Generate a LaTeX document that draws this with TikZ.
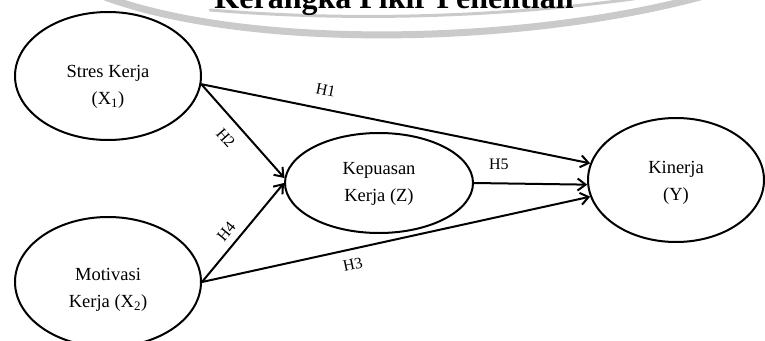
\documentclass[tikz,border=0pt]{standalone}
\usepackage{fontspec}
\setmainfont{Liberation Serif}
\usetikzlibrary{arrows.meta,shapes.geometric}
\definecolor{KPInk}{HTML}{000000}
\definecolor{KPWater}{HTML}{CACACA}
\tikzset{
  link/.style={-{Straight Barb[length=8pt,width=12pt]},KPInk,line width=2pt},
  construct/.style={ellipse,draw=KPInk,line width=2pt,inner sep=0pt},
  varlabel/.style={text=KPInk,font=\fontsize{18.5}{27}\selectfont,align=center},
  hyp/.style={text=KPInk,font=\fontsize{16}{18}\selectfont,inner sep=1pt},
  headline/.style={text=KPInk,font=\fontsize{32}{36}\selectfont\bfseries},
  swoosh/.style={KPWater,line cap=round},
}

\begin{document}
\begin{tikzpicture}[x=1pt,y=-1pt]
  \useasboundingbox (0,0) rectangle (765,340);
  \begin{scope}
    \clip (0,0) rectangle (765,340);
    \draw[swoosh,line width=7pt] (105,-3) .. controls (250,50) and (520,45) .. (700,-3);
    \draw[swoosh,line width=3pt] (210,10) .. controls (330,20) and (480,20) .. (640,-2);
    \node[headline,anchor=base] (title) at (394,9) {Kerangka Pikir Penelitian};

    \node[construct,minimum width=186pt,minimum height=128pt] (stres) at (108,76) {};
    \node[varlabel] (stresT) at (108,87) {Stres Kerja\\(X\textsubscript{1})};
    \node[construct,minimum width=186pt,minimum height=130pt] (motiv) at (108,282) {};
    \node[varlabel] (motivT) at (108,290) {Motivasi\\Kerja (X\textsubscript{2})};
    \node[construct,minimum width=188pt,minimum height=100pt] (kepuas) at (379,183) {};
    \node[varlabel] (kepuasT) at (379,184) {Kepuasan\\Kerja (Z)};
    \node[construct,minimum width=176pt,minimum height=124pt] (kinerja) at (676,180) {};
    \node[varlabel] (kinerjaT) at (676,183) {Kinerja\\(Y)};

    \draw[link] (stres.-5) -- (kinerja.169) node[hyp,pos=.31,sloped,above=12pt] {H1};
    \draw[link] (stres.-5) -- (kepuas.177) node[hyp,pos=.45,sloped,below=10pt] {H2};
    \draw[link] (motiv.east) -- (kepuas.180) node[hyp,pos=.42,sloped,above=6pt] {H4};
    \draw[link] (motiv.east) -- (kinerja.191) node[hyp,pos=.38,sloped,below=8pt] {H3};
    \draw[link] (kepuas.east) -- (kinerja.183) node[hyp,pos=.22,above=12pt] {H5};
  \end{scope}
\end{tikzpicture}
\end{document}
